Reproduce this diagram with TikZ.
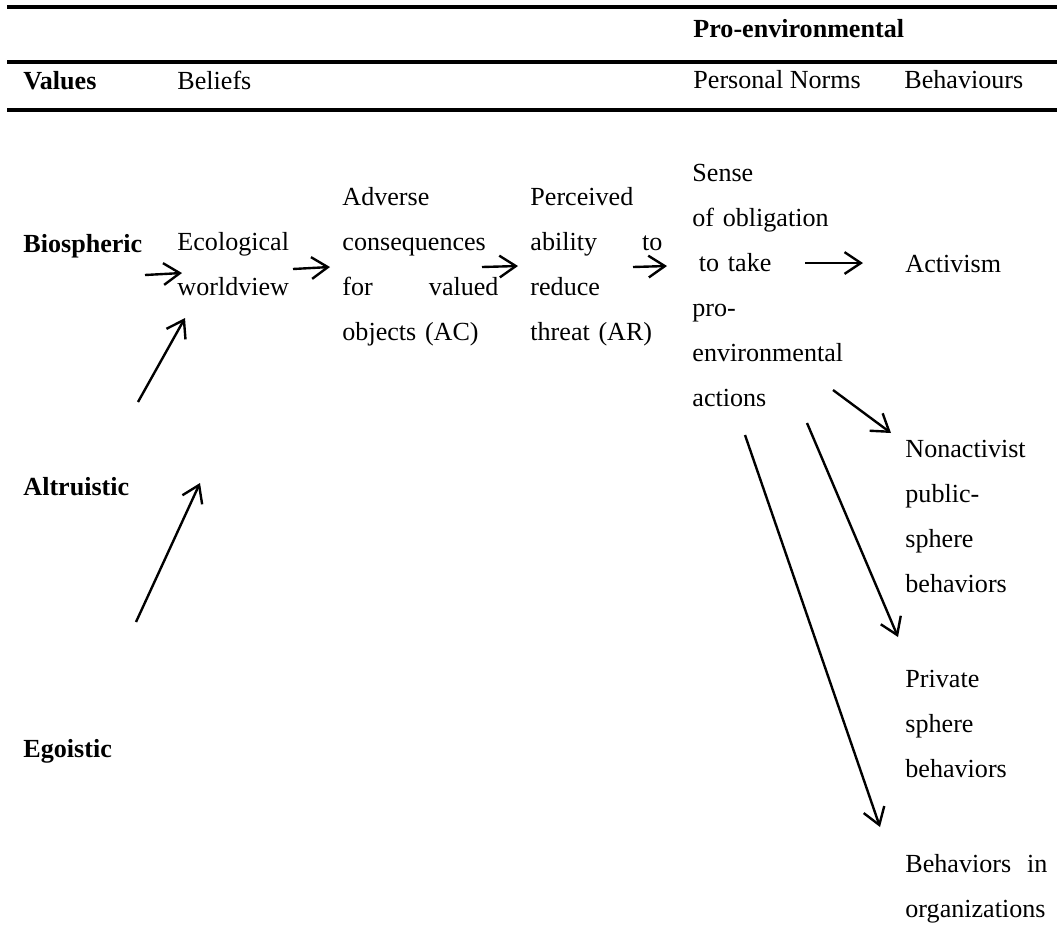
\documentclass[tikz,border=0pt]{standalone}
\usepackage{fontspec}
\setmainfont{Liberation Serif}
\usetikzlibrary{arrows.meta}

\begin{document}
\begin{tikzpicture}[x=0.46pt,y=-0.46pt,
        txt/.style={anchor=base west, inner sep=0pt, align=left, font=\fontsize{12pt}{20.7pt}\selectfont},
        bold/.style={txt, font=\fontsize{12pt}{20.7pt}\selectfont\bfseries},
        arr/.style={-{Straight Barb[length=7.5pt,width=10pt,line width=1.1pt]}, line width=1.1pt},
        rule/.style={line width=1.5pt}]
        \useasboundingbox (0,0) rectangle (1057,925);

        % table head
        \draw[rule] (7,7) -- (1057,7);
        \draw[rule] (7,62) -- (1057,62);
        \draw[rule] (7,110) -- (1057,110);

        \node[bold] (pro) at (693,37) {Pro-environmental};
        \node[bold] (values) at (23,89) {Values};
        \node[txt] (beliefs) at (177,89) {Beliefs};
        \node[txt] (norms) at (693,88) {Personal Norms};
        \node[txt] (behav) at (904,88) {Behaviours};

        % values
        \node[bold] (bio) at (23,252) {Biospheric};
        \node[bold] (alt) at (23,495) {Altruistic};
        \node[bold] (ego) at (23,757) {Egoistic};

        % chain
        \node[txt, text width=55pt] (eco) at (177,250) {Ecological\\worldview};
        \node[txt, text width=71.8pt] (ac) at (342,205) {Adverse\\consequences\\for\hfill valued\\objects (AC)};
        \node[txt, text width=60.7pt] (ar) at (530,205) {Perceived\\ability\hfill to\\reduce\\threat (AR)};
        \node[txt, text width=75pt] (pn) at (692,181) {Sense\\of obligation\\\hspace*{3pt}to take\\pro-\\environmental\\actions};

        \node[txt] (act) at (905,272) {Activism};
        \node[txt, text width=66pt] (nonact) at (905,457) {Nonactivist\\public-\\sphere\\behaviors};
        \node[txt, text width=66pt] (priv) at (905,687) {Private\\sphere\\behaviors};
        \node[txt, text width=65.3pt] (org) at (905,872) {Behaviors\hfill in\\organizations};

        \coordinate (bioR) at (145,275);
        \coordinate (ecoL) at (182,273);
        \coordinate (ecoR) at (293,269);
        \coordinate (acL) at (330,267);
        \coordinate (acR) at (482,267);
        \coordinate (arL) at (518,266);
        \coordinate (arR) at (633,267);
        \coordinate (pnL) at (667,266);
        \coordinate (pnR) at (805,263);
        \coordinate (actL) at (863,263);
        \coordinate (pn1) at (833,390);
        \coordinate (nonactL) at (891,433);
        \coordinate (pn2) at (807,423);
        \coordinate (privL) at (898,637);
        \coordinate (pn3) at (745,435);
        \coordinate (orgL) at (880,827);
        \coordinate (altT) at (138,402);
        \coordinate (ecoB) at (185,318);
        \coordinate (egoT) at (136,622);
        \coordinate (altR) at (200,483);

        \draw[arr] (bioR) -- (ecoL);
        \draw[arr] (ecoR) -- (acL);
        \draw[arr] (acR) -- (arL);
        \draw[arr] (arR) -- (pnL);
        \draw[arr] (pnR) -- (actL);
        \draw[arr] (pn1) -- (nonactL);
        \draw[arr] (pn2) -- (privL);
        \draw[arr] (pn3) -- (orgL);
        \draw[arr] (altT) -- (ecoB);
        \draw[arr] (egoT) -- (altR);
    \end{tikzpicture}
\end{document}
